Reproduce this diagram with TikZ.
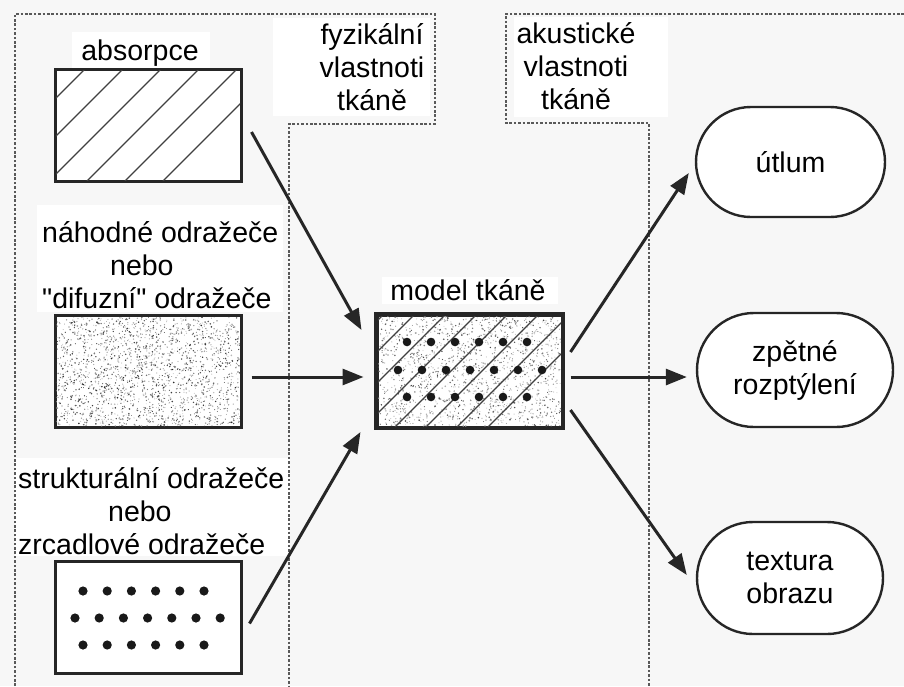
\documentclass[tikz,border=0pt]{standalone}
\usepackage{fontspec}
\setmainfont{Liberation Sans}[Ligatures=TeXOff]
\usetikzlibrary{arrows.meta,shapes.misc}

\begin{document}
\begin{tikzpicture}[x=1pt,y=-1pt,
  every node/.style={font=\fontsize{28.5}{33}\selectfont, inner sep=0pt},
  region/.style={draw=black!65, line width=1.4pt, dash pattern=on 2.6pt off 1.8pt},
  panel/.style={draw=black!85, fill=white, line width=3pt, rectangle,
                minimum width=186pt, minimum height=112pt},
  outcome/.style={draw=black!85, fill=white, line width=2.4pt, rounded rectangle,
                  align=center},
  link/.style={draw=black!85, line width=3pt, -{Triangle[length=21pt,width=16pt]}},
  hatch/.style={draw=black!75, line width=1.3pt},
  bead/.style={fill=black!90},
  patch/.style={fill=white},
]
% page and background
\useasboundingbox (0,0) rectangle (904,686);
\fill[black!3] (0,0) rectangle (904,686);

% white patches behind the labels
\fill[patch] (72,32) rectangle (210,70);
\fill[patch] (273,18) rectangle (430,116);
\fill[patch] (514,17) rectangle (668,117);
\fill[patch] (37,205) rectangle (283,312);
\fill[patch] (15,458) rectangle (290,556);
\fill[patch] (382,277) rectangle (558,304);

% dotted regions: physical and acoustic properties
\draw[region] (15,686) -- (15,14) -- (435,14) -- (435,124) -- (289,124) -- (289,686);
\draw[region] (904,14) -- (506,14) -- (506,123) -- (649,123) -- (649,686);

% input panels
\node[panel] (absbox) at (148,125) {};
\node[panel] (rndbox) at (148,371) {};
\node[panel] (strbox) at (148,617.5) {};
% tissue model
\node[panel, minimum width=185pt] (model) at (469.5,371) {};

% hatching of the absorption panel
\begin{scope}
  \clip (56,70) rectangle (240,180);
  \foreach \k in {-3,...,5}
    \draw[hatch] ({85+38*\k},69) -- ({85+38*\k-112},181);
\end{scope}

% random scatterers
\pgfmathsetseed{7}
\begin{scope}
  \clip (56,317) rectangle (240,426);
  \foreach \i in {1,...,2000}{
    \pgfmathsetmacro\px{56+184*rnd}
    \pgfmathsetmacro\py{317+109*rnd}
    \pgfmathsetmacro\pr{0.35+0.55*rnd}
    \pgfmathtruncatemacro\pg{25+60*rnd}
    \fill[black!\pg] (\px,\py) circle[radius=\pr pt];
  }
\end{scope}

% structured scatterers
\foreach \k in {0,...,5} \fill[bead] ({83+24.2*\k},591) circle[radius=4.6pt];
\foreach \k in {0,...,6} \fill[bead] ({75+24.2*\k},618) circle[radius=4.6pt];
\foreach \k in {0,...,5} \fill[bead] ({83+24.2*\k},645) circle[radius=4.6pt];

% tissue model: speckle, hatching and scatterers combined
\begin{scope}
  \clip (378,316) rectangle (561,426);
  \foreach \i in {1,...,1600}{
    \pgfmathsetmacro\px{378+183*rnd}
    \pgfmathsetmacro\py{316+110*rnd}
    \pgfmathsetmacro\pr{0.35+0.55*rnd}
    \pgfmathtruncatemacro\pg{20+55*rnd}
    \fill[black!\pg] (\px,\py) circle[radius=\pr pt];
  }
  \foreach \k in {-4,...,6}
    \draw[hatch] ({414+31*\k},315) -- ({414+31*\k-112},427);
\end{scope}
\foreach \k in {0,...,5} \fill[bead] ({407+24*\k},342) circle[radius=4.3pt];
\foreach \k in {0,...,6} \fill[bead] ({398+24*\k},370) circle[radius=4.3pt];
\foreach \k in {0,...,5} \fill[bead] ({407+24*\k},397) circle[radius=4.3pt];
\draw[draw=black!85, line width=3pt] (model.south west) rectangle (model.north east);

% outcome nodes
\node[outcome, minimum width=189pt, minimum height=110pt] (utlum) at (790.5,162) {útlum};
\node[outcome, minimum width=196pt, minimum height=114pt] (zpetne) at (795,370) {zpětné\\rozptýlení};
\node[outcome, minimum width=186pt, minimum height=112pt] (textura) at (790,578) {textura\\obrazu};

% labels
\node (labs) at (140,53) {absorpce};
\node[align=center] (lfyz) at (372,67) {fyzikální\\vlastnoti\\tkáně};
\node[align=center] (laku) at (576,66) {akustické\\vlastnoti\\tkáně};
\node[align=left, anchor=west] (lrnd) at (42,265)
  {náhodné odražeče\\\hspace*{68pt}nebo\\"difuzní" odražeče};
\node[align=left, anchor=west] (lstr) at (18,511)
  {strukturální odražeče\\\hspace*{90pt}nebo\\zrcadlové odražeče};
\node (lmodel) at (468,290) {model tkáně};

% connectors
\draw[link] ([xshift=9pt,yshift=-7pt]absbox.east) -- ([xshift=-14pt,yshift=41pt]model.west);
\draw[link] ([xshift=9pt,yshift=-6pt]rndbox.east) -- ([xshift=-12pt,yshift=-6pt]model.west);
\draw[link] ([xshift=7pt,yshift=-6pt]strbox.east) -- ([xshift=-15pt,yshift=-61pt]model.west);
\draw[link] ([xshift=7pt,yshift=19pt]model.east) -- ([xshift=-6pt,yshift=-11pt]utlum.west);
\draw[link] ([xshift=7pt,yshift=-6pt]model.east) -- ([xshift=-9pt,yshift=-7pt]zpetne.west);
\draw[link] ([xshift=7pt,yshift=-39pt]model.east) -- ([xshift=-9pt,yshift=3pt]textura.west);
\end{tikzpicture}
\end{document}
